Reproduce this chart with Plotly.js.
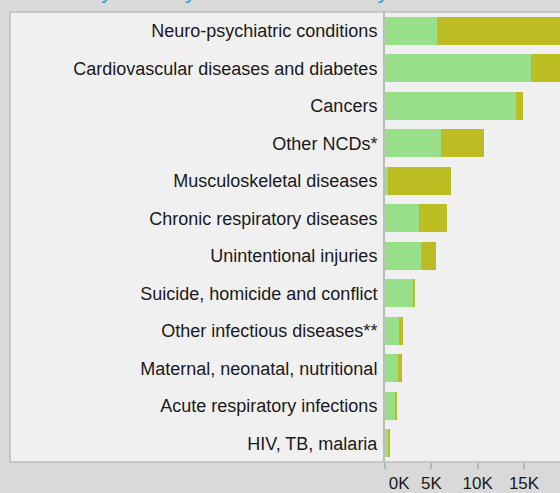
<!DOCTYPE html>
<html>
<head>
<meta charset="utf-8">
<script src="https://cdn.plot.ly/plotly-3.0.1.min.js"></script>
<style>
html, body { margin:0; padding:0; width:560px; height:493px; overflow:hidden; background:#d9d9d9; }
#chart { position:absolute; left:0; top:-40px; width:663px; height:552px; }
</style>
</head>
<body>
<div id="chart"></div>
<script>
const categories = [
  "Neuro-psychiatric conditions",
  "Cardiovascular diseases and diabetes",
  "Cancers",
  "Other NCDs*",
  "Musculoskeletal diseases",
  "Chronic respiratory diseases",
  "Unintentional injuries",
  "Suicide, homicide and conflict",
  "Other infectious diseases**",
  "Maternal, neonatal, nutritional",
  "Acute respiratory infections",
  "HIV, TB, malaria"
];
const yllValues = [5600, 15750, 14100, 6050, 300, 3670, 3900, 3000, 1500, 1400, 1080, 320];
const yldValues = [16400, 4250, 800, 4650, 6800, 3030, 1600, 240, 440, 430, 220, 220];
const tickValues = [0, 5000, 10000, 15000];
const tickLabels = ["\u00a0\u00a0\u00a0\u00a0\u00a0\u00a00K", "5K", "10K", "15K"];
const titleText = "DALYs by cause: years of life lost and years lived with disability, by group";

const plotW = 663 - 385;
const data = [
  { type:"bar", orientation:"h", name:"Years of life lost", y:categories, x:yllValues,
    marker:{color:"#98df8a"}, hoverinfo:"x+y" },
  { type:"bar", orientation:"h", name:"Years lived with disability", y:categories, x:yldValues,
    marker:{color:"#bcbd22"}, hoverinfo:"x+y" }
];
const layout = {
  width:663, height:552,
  margin:{l:385, r:0, t:52, b:50, pad:0},
  paper_bgcolor:"#d9d9d9",
  plot_bgcolor:"#f0f0f0",
  barmode:"stack",
  bargap:0.25,
  showlegend:false,
  font:{family:"Liberation Sans, Arial, sans-serif", size:18, color:"#1a1a1a"},
  title:{text:titleText, font:{size:21, color:"#1e9bd7", family:"Liberation Sans, Arial, sans-serif"},
    x:0.03, xanchor:"left", yref:"container", y:1-38.5/552, yanchor:"bottom"},
  xaxis:{range:[0,30000], tickvals:tickValues, ticktext:tickLabels, showgrid:false, zeroline:false,
    showline:false, ticks:"outside", ticklen:6, tickwidth:2, tickcolor:"#b5b5b5", fixedrange:true,
    tickfont:{size:17}},
  yaxis:{autorange:"reversed", type:"category", showgrid:false, zeroline:false, showline:true,
    linecolor:"#bbbbbb", linewidth:2, ticks:"", ticklabelstandoff:2, fixedrange:true},
  shapes:[
    { type:"rect", xref:"paper", yref:"paper", x0:(10-385)/plotW, x1:1.5, y0:0, y1:1,
      fillcolor:"#f0f0f0", line:{color:"#bdbdbd", width:1.5}, layer:"below" }
  ]
};
Plotly.newPlot("chart", data, layout, {displayModeBar:false, staticPlot:true});
</script>
</body>
</html>
